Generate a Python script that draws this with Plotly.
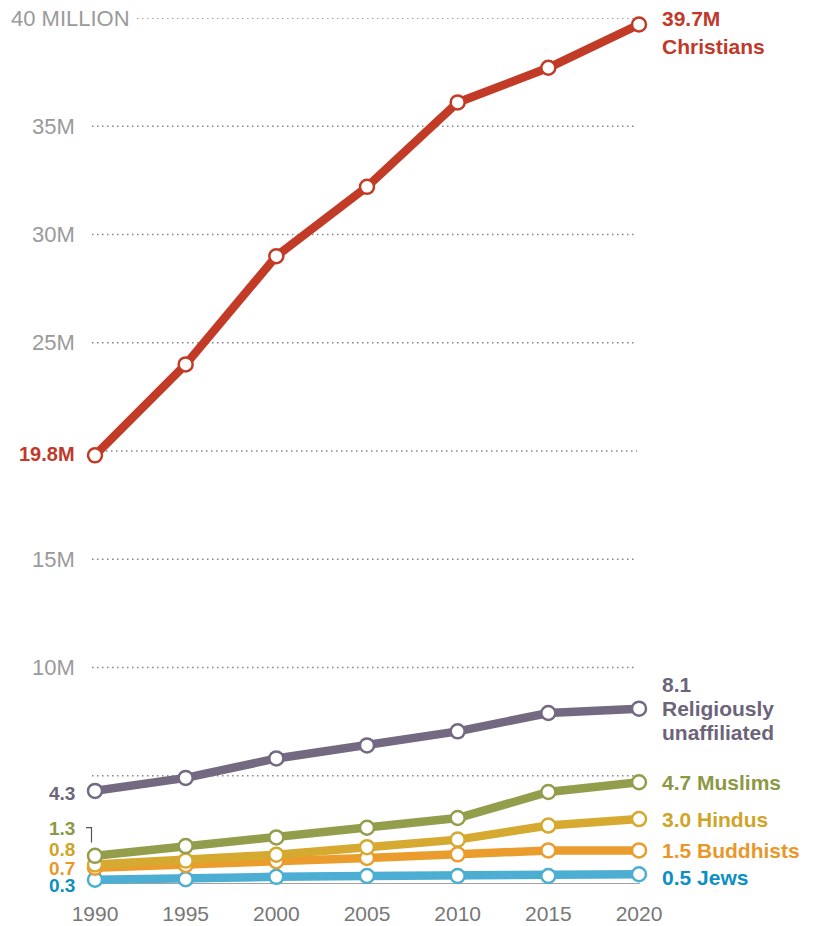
import plotly.graph_objects as go

years = [1990, 1995, 2000, 2005, 2010, 2015, 2020]
christians = [19.8, 24.0, 29.0, 32.2, 36.1, 37.7, 39.7]
unaffiliated = [4.3, 4.9, 5.8, 6.4, 7.05, 7.9, 8.1]
muslims = [1.3, 1.75, 2.15, 2.6, 3.05, 4.25, 4.7]
hindus = [0.9, 1.08, 1.35, 1.7, 2.05, 2.7, 3.0]
buddhists = [0.75, 0.88, 1.05, 1.2, 1.37, 1.55, 1.55]
jews = [0.2, 0.22, 0.33, 0.37, 0.37, 0.37, 0.45]

y_ticks = [10, 15, 25, 30, 35]
y_tick_labels = ["10M", "15M", "25M", "30M", "35M"]
grid_vals = [5, 10, 15, 20, 25, 30, 35, 40]

series = [
    ("Jews", jews, "#4DAED4", "#0E8FC4", ["0.5 Jews"], "0.3"),
    ("Buddhists", buddhists, "#EA9C2C", "#E8982A", ["1.5 Buddhists"], "0.7"),
    ("Hindus", hindus, "#D6AA30", "#D0A428", ["3.0 Hindus"], "0.8"),
    ("Muslims", muslims, "#949D4B", "#8D9844", ["4.7 Muslims"], "1.3"),
    ("Religiously unaffiliated", unaffiliated, "#736A82", "#6C6479",
     ["8.1", "Religiously", "unaffiliated"], "4.3"),
    ("Christians", christians, "#C23B26", "#C0392A", ["39.7M", "Christians"], "19.8M"),
]

OFF = 8  # page body margin
W, H = 814, 926
# plot area in screen pixels: x 95..639, y 18..884.5
L = 95 - OFF
T = 18 - OFF
R = W - (639 - OFF)
B = H - (884.5 - OFF)
PW = W - L - R
PH = H - T - B


def px_x(px):
    return (px - OFF - L) / PW


def px_y(py):
    return (H - B - (py - OFF)) / PH


LABEL_FONT = "Liberation Sans, Arial"

fig = go.Figure()

for g in grid_vals:
    start = 92
    if g == 40:
        start = 137
    if g == 20:
        start = 106
    fig.add_shape(type="line", xref="paper", yref="y",
                  x0=px_x(start), x1=px_x(637), y0=g, y1=g,
                  line=dict(color="#858585", width=1.5, dash="1.5px,3.5px"),
                  layer="below")

fig.add_shape(type="line", xref="paper", yref="y",
              x0=px_x(90), x1=px_x(640), y0=0, y1=0,
              line=dict(color="#444444", width=1.2), layer="below")

fig.add_shape(type="path", xref="paper", yref="paper",
              path="M {a},{b} L {c},{b} L {c},{d}".format(
                  a=px_x(86), c=px_x(91.5), b=px_y(828), d=px_y(843)),
              line=dict(color="#555555", width=1.2))

for name, vals, col, lcol, rlab, llab in series:
    fig.add_trace(go.Scatter(
        x=years, y=vals, mode="lines+markers", name=name,
        line=dict(color=col, width=8.5),
        marker=dict(size=14, color="white", line=dict(color=col, width=2.5)),
        cliponaxis=False, showlegend=False, hoverinfo="skip"))

for v, t in zip(y_ticks, y_tick_labels):
    fig.add_annotation(xref="paper", yref="y", x=px_x(77), y=v, text=t,
                       showarrow=False, xanchor="right", yanchor="middle",
                       font=dict(family=LABEL_FONT, size=22, color="#9a9a9a"))
fig.add_annotation(xref="paper", yref="y", x=px_x(9), y=40, text="40 MILLION",
                   showarrow=False, xanchor="left", yanchor="middle",
                   font=dict(family=LABEL_FONT, size=22, color="#9a9a9a"))

right_px = {"Christians": [19, 47], "Religiously unaffiliated": [685, 709, 733],
            "Muslims": [783], "Hindus": [820], "Buddhists": [851], "Jews": [878]}
left_px = {"Christians": 454, "Religiously unaffiliated": 794, "Muslims": 829,
           "Hindus": 850, "Buddhists": 869, "Jews": 886}

for name, vals, col, lcol, rlab, llab in series:
    for line_text, ypx in zip(rlab, right_px[name]):
        fig.add_annotation(xref="paper", yref="paper", x=px_x(660),
                           y=px_y(ypx), text="<b>" + line_text + "</b>",
                           showarrow=False, xanchor="left", yanchor="middle", align="left",
                           font=dict(family=LABEL_FONT, size=21, color=lcol))
    fig.add_annotation(xref="paper", yref="paper", x=px_x(77),
                       y=px_y(left_px[name]), text="<b>" + llab + "</b>",
                       showarrow=False, xanchor="right", yanchor="middle",
                       font=dict(family=LABEL_FONT, size=19 if name != "Christians" else 20,
                                 color=lcol))

fig.update_layout(
    width=W, height=H,
    margin=dict(l=L, r=R, t=T, b=B, pad=0),
    paper_bgcolor="white", plot_bgcolor="white",
    xaxis=dict(range=[1990, 2020], tickvals=years, ticktext=[str(y) for y in years],
               showgrid=False, zeroline=False, showline=False, automargin=False,
               ticks="outside", ticklen=11, tickcolor="rgba(0,0,0,0)",
               tickfont=dict(family=LABEL_FONT, size=21, color="#777777")),
    yaxis=dict(range=[0, 40], showgrid=False, zeroline=False, showline=False,
               automargin=False, showticklabels=False, ticks=""),
)

fig.write_html("out.html")
